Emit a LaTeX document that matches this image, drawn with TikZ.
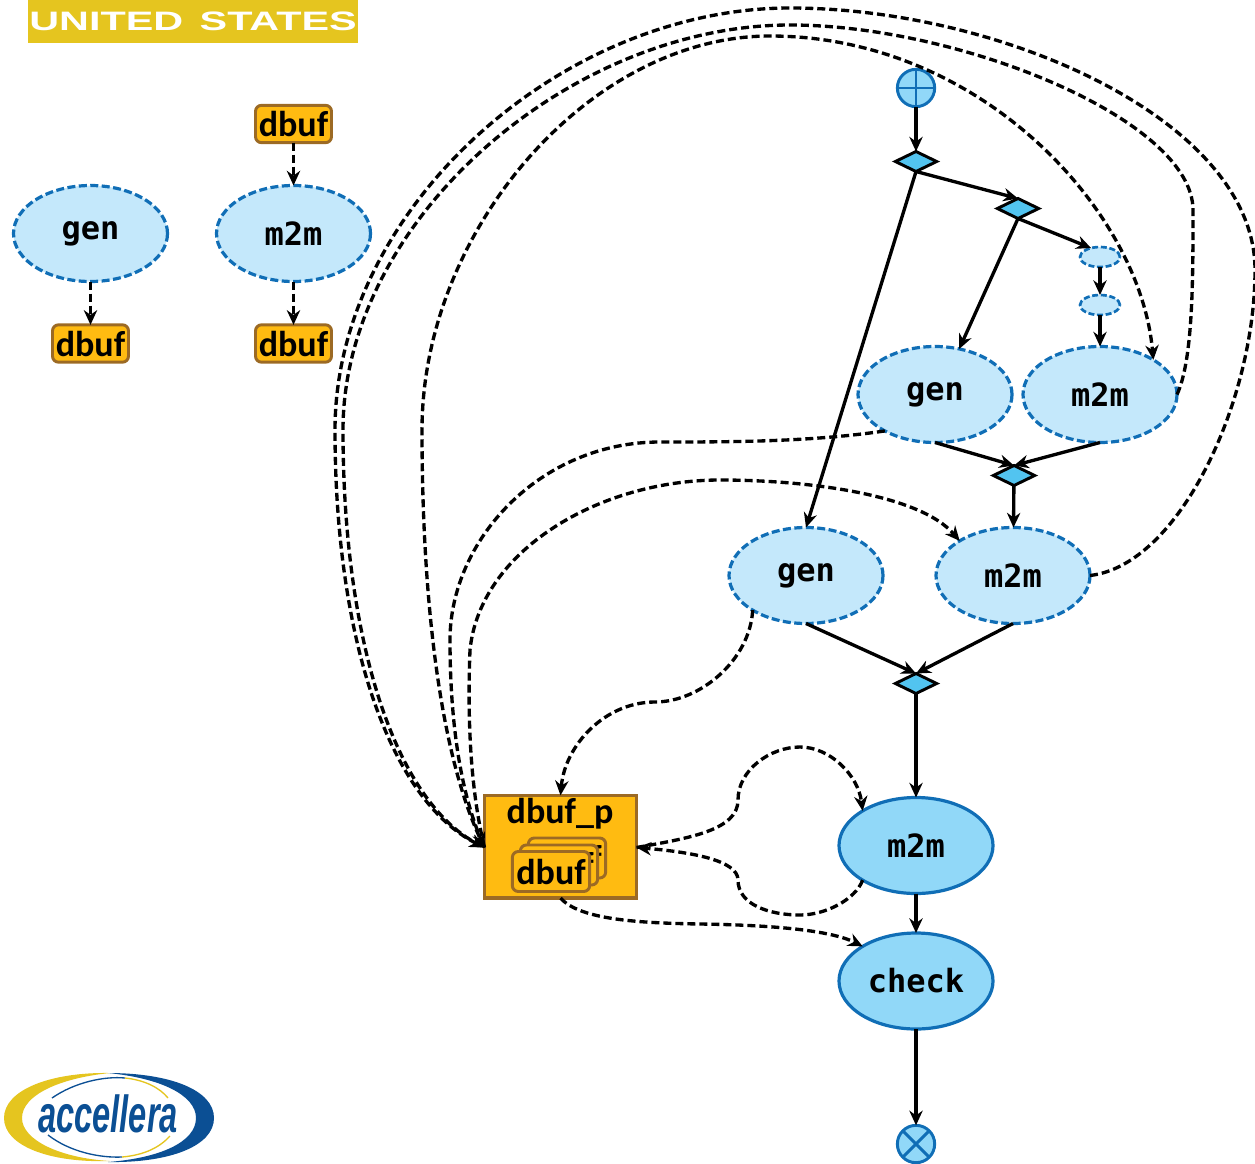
\documentclass[tikz,border=0pt]{standalone}
\usepackage{fontspec}
\setmainfont{Carlito}
\newfontfamily\monob{DejaVu Sans Mono}
\newfontfamily\carb{Carlito}
\newfontfamily\logof{Liberation Sans}
\usetikzlibrary{arrows.meta,shapes.geometric}
\definecolor{ltblue}{HTML}{C4E8FB}
\definecolor{midblue}{HTML}{91D8F8}
\definecolor{dkblue}{HTML}{106EB6}
\definecolor{dia}{HTML}{52C4F0}
\definecolor{orange}{HTML}{FFBB11}
\definecolor{brn}{HTML}{9C6A24}
\definecolor{gold}{HTML}{E5C51F}
\definecolor{logoblue}{HTML}{0B4F94}
\tikzset{
 x=0.75pt,y=-0.75pt,
 act/.style={ellipse,inner sep=0pt,outer sep=0pt,minimum width=115.5pt,minimum height=72pt,draw=dkblue,line width=2.4pt,fill=ltblue,dash pattern=on 6pt off 2.6pt,font=\monob\bfseries\fontsize{24}{24}\selectfont,text=black},
 sact/.style={act,solid,fill=midblue},
 tiny/.style={act,minimum width=30pt,minimum height=15pt,dash pattern=on 4.5pt off 2pt,line width=2pt},
 dec/.style={diamond,inner sep=0pt,outer sep=0pt,minimum width=31pt,minimum height=15pt,draw=black,line width=2.2pt,fill=dia},
 term/.style={circle,inner sep=0pt,outer sep=0pt,minimum size=28pt,draw=dkblue,line width=2.2pt,fill=midblue},
 bufbox/.style={rectangle,rounded corners=4.5pt,inner sep=0pt,outer sep=0pt,minimum width=57pt,minimum height=28pt,draw=brn,line width=2.2pt,fill=orange,font=\carb\bfseries\fontsize{27}{27}\selectfont,text=black},
 flow/.style={draw=black,line width=2.5pt,-{Stealth[length=11pt,width=10pt]}},
 dflow/.style={flow,dash pattern=on 6pt off 3pt},
 bar/.style={draw=dkblue,line width=2.2pt},
}
\begin{document}
\begin{tikzpicture}
\useasboundingbox (0,0) rectangle (1255,1163);
% banner
\node[rectangle,fill=gold,inner sep=0pt,minimum width=248pt,minimum height=32pt,text=white,font=\logof\bfseries\fontsize{20}{20}\selectfont] (banner) at (193,21.5) {\scalebox{1.55}[1]{UNITED\hspace{0.4em}STATES}};
% logo
\fill[white] (109,1118) ellipse [x radius=104,y radius=44];
\fill[gold] (4,1118) .. controls (4,1090) and (50,1072) .. (110,1073) .. controls (60,1078) and (22,1095) .. (22,1118) .. controls (22,1140) and (60,1158) .. (110,1161) .. controls (50,1163) and (4,1146) .. (4,1118) -- cycle;
\fill[logoblue] (214,1118) .. controls (214,1090) and (170,1073) .. (108,1073) .. controls (160,1078) and (196,1095) .. (196,1118) .. controls (196,1142) and (160,1158) .. (108,1162) .. controls (170,1163) and (214,1146) .. (214,1118) -- cycle;
\draw[logoblue,line width=1pt] (52,1098) .. controls (75,1082) and (105,1076) .. (125,1078);
\draw[gold,line width=1pt] (125,1078) .. controls (145,1080) and (160,1088) .. (168,1098);
\draw[logoblue,line width=1pt] (48,1135) .. controls (70,1152) and (100,1158) .. (122,1157);
\draw[gold,line width=1pt] (122,1157) .. controls (145,1155) and (160,1147) .. (170,1136);
\node[inner sep=0pt,text=logoblue,font=\logof\bfseries\itshape\fontsize{34}{34}\selectfont] (logotext) at (108,1114) {\scalebox{0.72}[1.15]{accellera}};
% left groups
\node[act] (gen1) at (90.5,233.5) {gen};
\node[bufbox] (b1) at (90.5,343.5) {dbuf};
\node[bufbox] (b2) at (293.5,124) {dbuf};
\node[act] (m1) at (293.5,233.5) {m2m};
\node[bufbox] (b3) at (293.5,343.5) {dbuf};
\path[dflow] (gen1) -- (b1);
\path[dflow] (b2) -- (m1);
\path[dflow] (m1) -- (b3);
% right graph
\node[term] (start) at (916,88) {};
\draw[bar] (start.north) -- (start.south) (start.west) -- (start.east);
\node[dec] (d1) at (916,161.5) {};
\node[dec] (d2) at (1018,208.5) {};
\node[tiny] (s1) at (1100,257) {};
\node[tiny] (s2) at (1100,305) {};
\node[act] (g2) at (935,394.5) {gen};
\node[act] (m2) at (1100,394.5) {m2m};
\node[dec] (d3) at (1014,475.5) {};
\node[act] (g3) at (806,575.5) {gen};
\node[act] (m3) at (1013,575.5) {m2m};
\node[dec] (d4) at (916,683.5) {};
\node[sact] (m4) at (916,845.5) {m2m};
\node[sact] (chk) at (916,981) {check};
\node[term] (stop) at (916,1144) {};
\draw[bar] (stop.45) -- (stop.225) (stop.135) -- (stop.315);
% cylinder
\node[cylinder,shape border rotate=90,aspect=3.3,inner sep=0pt,outer sep=0pt,minimum width=114pt,minimum height=77pt,draw=brn,line width=2.4pt,fill=orange,cylinder uses custom fill,cylinder body fill=orange,cylinder end fill=orange] (cyl) at (560.5,847.5) {};
\node[inner sep=0pt,text=black,font=\carb\bfseries\fontsize{27}{27}\selectfont] (cyllab) at (560,814) {dbuf\_p};
\node[bufbox,minimum width=58pt,minimum height=30pt] (p3) at (567,858) {dbuf};
\node[bufbox,minimum width=58pt,minimum height=30pt] (p2) at (559,865) {dbuf};
\node[bufbox,minimum width=58pt,minimum height=30pt] (p1) at (551,871.5) {dbuf};
% solid flows
\path[flow] (start) -- (d1);
\path[flow] (d1.south) -- (d2.north);
\path[flow] (d1.south) -- (g3.north);
\path[flow] (d2.south) -- (g2.62);
\path[flow] (d2.south) -- (s1.135);
\path[flow] (s1) -- (s2);
\path[flow] (s2) -- (m2);
\path[flow] (g2.south) -- (d3.north);
\path[flow] (m2.south) -- (d3.north);
\path[flow] (d3) -- (m3);
\path[flow] (g3.south) -- (d4.north);
\path[flow] (m3.south) -- (d4.north);
\path[flow] (d4) -- (m4);
\path[flow] (m4) -- (chk);
\path[flow] (chk) -- (stop);
% dashed flows
\path[dflow] (m3.east) .. controls (1180,565) and (1255,400) .. (1255,270) .. controls (1255,120) and (1000,8) .. (790,8) .. controls (560,8) and (335,210) .. (335,430) .. controls (335,640) and (390,800) .. (cyl.west);
\path[dflow] (m2.east) .. controls (1193,360) and (1193,280) .. (1193,210) .. controls (1193,120) and (960,25) .. (790,25) .. controls (570,25) and (343,220) .. (343,430) .. controls (343,640) and (395,800) .. (cyl.west);
\path[dflow] (cyl.west) .. controls (440,760) and (422,600) .. (422,430) .. controls (422,230) and (590,36) .. (770,36) .. controls (980,36) and (1140,210) .. (m2.33);
\path[dflow] (g2.216) .. controls (810,442) and (730,442) .. (660,442) .. controls (540,442) and (450,540) .. (450,640) .. controls (450,720) and (460,790) .. (cyl.west);
\path[dflow] (cyl.west) .. controls (468,780) and (468,700) .. (470,650) .. controls (480,550) and (600,480) .. (720,480) .. controls (810,480) and (920,495) .. (m3.147);
\path[dflow] (g3.213) .. controls (750,660) and (700,702) .. (655,702) .. controls (605,702) and (565,745) .. (cyl.north);
\path[dflow] (cyl.east) .. controls (690,838) and (738,830) .. (738,800) .. controls (738,770) and (770,747) .. (800,747) .. controls (830,747) and (858,775) .. (m4.147);
\path[dflow] (m4.213) .. controls (855,900) and (825,915) .. (800,915) .. controls (770,915) and (738,905) .. (738,880) .. controls (738,860) and (690,852) .. (cyl.east);
\path[dflow] (cyl.south) .. controls (580,920) and (640,923) .. (700,924) .. controls (770,925) and (830,930) .. (chk.147);
\end{tikzpicture}
\end{document}
